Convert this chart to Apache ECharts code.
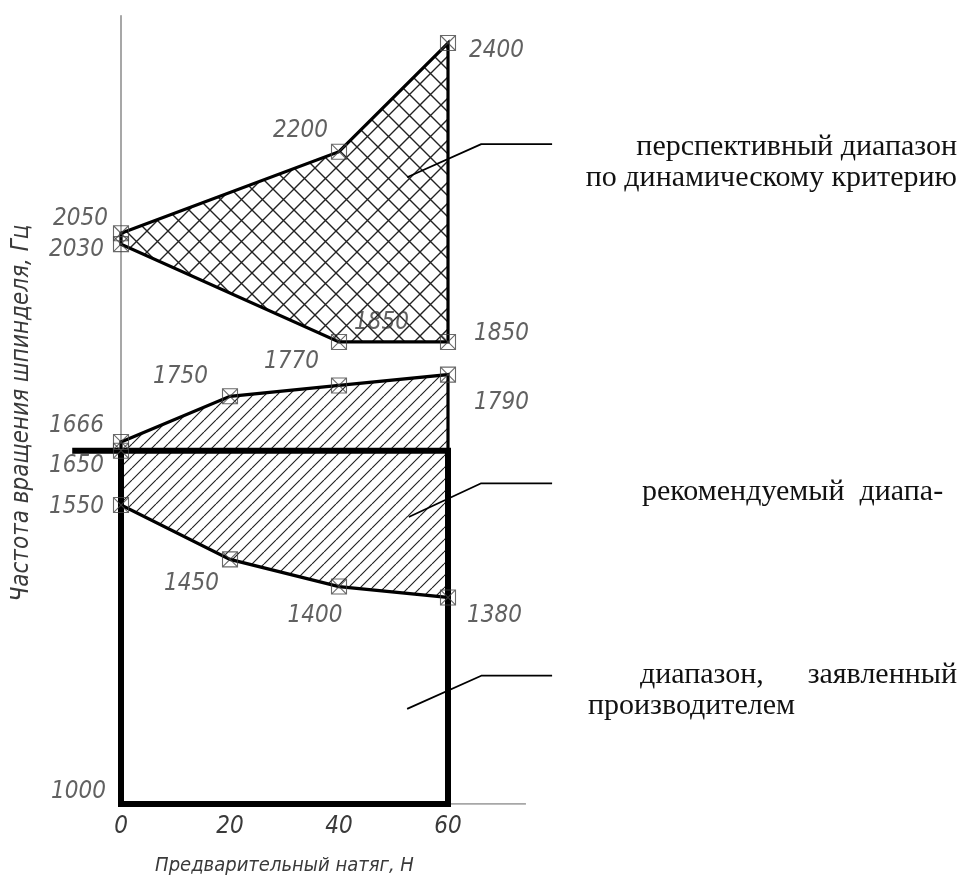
<!DOCTYPE html>
<html><head><meta charset="utf-8">
<script src="https://cdn.jsdelivr.net/npm/echarts@6/dist/echarts.min.js"></script>
<style>html,body{margin:0;padding:0;background:#fff}#c{width:961px;height:883px}</style>
</head><body><div id="c"></div>
<script>
// ---- data ----
const upperX = [0, 40, 60];                 // перспективный диапазон
const upperTop = [2050, 2200, 2400];
const upperBottom = [2030, 1850, 1850];
const recX = [0, 20, 40, 60];               // рекомендуемый диапазон
const recTop = [1666, 1750, 1770, 1790];
const recBottom = [1550, 1450, 1400, 1380];
const factoryX = [-8.4, 60, 60, 0, 0];      // диапазон, заявленный производителем
const factoryY = [1650, 1650, 1000, 1000, 1650];
const extraPointX = [0];
const extraPointY = [1650];
const xTickLabels = [0, 20, 40, 60];
const yTickLabels = [1000];
const xAxisLineX = [0, 74.3];
const yAxisTop = 2450;
const leaderUpperX = [52.5, 66.1, 79.1], leaderUpperY = [2153, 2214, 2214];
const leaderRecX = [52.8, 66.1, 79.1], leaderRecY = [1528, 1590, 1590];
const leaderFactX = [52.5, 66.1, 79.1], leaderFactY = [1175, 1236, 1236];

// ---- styles ----
const numFont = "'Liberation Sans Narrow','DejaVu Sans Condensed','Roboto',sans-serif";
const numStyle = {fontFamily: numFont, fontStyle: 'italic', fontSize: 24, color: '#3a3a3a'};

function hatch(size, cross, lw) {
  const c = document.createElement('canvas');
  c.width = size; c.height = size;
  const g = c.getContext('2d');
  g.strokeStyle = '#222'; g.lineWidth = lw;
  g.beginPath();
  for (let k = -1; k <= 1; k++) {
    g.moveTo(k * size, size); g.lineTo(k * size + size, 0);
    if (cross) { g.moveTo(k * size, 0); g.lineTo(k * size + size, size); }
  }
  g.stroke();
  return {image: c, repeat: 'repeat'};
}
const crossPattern = hatch(21, true, 1.4);
const slashPattern = hatch(12, false, 1.15);

function zip(xs, ys) { return xs.map((x, i) => [x, ys[i]]); }
const upperPoly = zip(upperX, upperTop).concat(zip(upperX, upperBottom).reverse());
const recPoly = zip(recX, recTop).concat(zip(recX, recBottom).reverse());

function polySeries(name, poly, fill) {
  return {
    type: 'custom', name: name, coordinateSystem: 'cartesian2d', data: poly, z: 2, silent: true,
    renderItem: function (params, api) {
      if (params.dataIndex !== 0) return null;
      const pts = poly.map(p => api.coord(p));
      return {type: 'polygon', shape: {points: pts},
        style: {fill: fill, stroke: '#000', lineWidth: 3.2, lineJoin: 'miter'}};
    }
  };
}

// label placement (dx, dy, align) – kept apart from the data
const placeUpperTop = [[-13, -14, 'right'], [-11, -21, 'right'], [21, 8, 'left']];
const placeUpperBottom = [[-17, 6, 'right'], [15, -19, 'left'], [26, -8, 'left']];
const placeRecTop = [[-17, -16, 'right'], [-22, -20, 'right'], [-20, -24, 'right'], [26, 28, 'left']];
const placeRecBottom = [[-17, 2, 'right'], [-11, 24, 'right'], [-24, 29, 'center'], [19, 18, 'left']];
const placeExtra = [[-17, 15, 'right']];

function pointItems(xs, ys, place) {
  return xs.map((x, i) => ({
    value: [x, ys[i]],
    label: {offset: [place[i][0], place[i][1]], align: place[i][2]}
  }));
}
const markerData = [].concat(
  pointItems(upperX, upperTop, placeUpperTop),
  pointItems(upperX, upperBottom, placeUpperBottom),
  pointItems(recX, recTop, placeRecTop),
  pointItems(recX, recBottom, placeRecBottom),
  pointItems(extraPointX, extraPointY, placeExtra)
);

function leader(xs, ys) {
  return {type: 'line', data: zip(xs, ys), symbol: 'none', silent: true, z: 5, clip: false,
    lineStyle: {color: '#000', width: 1.8}};
}

// ---- right-hand captions ----
const serifFont = "30px 'Liberation Serif'";
function txt(t, x, y, align) {
  return {type: 'text', x: x, y: y, silent: true,
    style: {text: t, font: serifFont, fill: '#111', align: align, verticalAlign: 'middle'}};
}

const chart = echarts.init(document.getElementById('c'), null, {renderer: 'canvas'});

chart.setOption({
  animation: false,
  backgroundColor: '#fff',
  grid: {left: 12, right: 404, top: 15.82, bottom: 79, containLabel: false, outerBoundsMode: 'none'},
  xAxis: {
    type: 'value', min: -20, max: 80, interval: 20,
    axisLine: {show: false}, axisTick: {show: false}, splitLine: {show: false},
    axisLabel: Object.assign({margin: 11, formatter: v => xTickLabels.includes(v) ? String(v) : ''}, numStyle),
    name: 'Предварительный натяг, Н', nameLocation: 'middle', nameGap: 52,
    nameTextStyle: {fontFamily: numFont, fontStyle: 'italic', fontSize: 20, color: '#3a3a3a'}
  },
  yAxis: {
    type: 'value', min: 1000, max: yAxisTop, interval: 50,
    axisLine: {show: true, onZero: true, lineStyle: {color: '#8a8a8a', width: 1.5}},
    axisTick: {show: false}, splitLine: {show: false}, axisLabel: {show: false}
  },
  series: [
    {type: 'line', data: zip(xAxisLineX, [1000, 1000]), symbol: 'none', silent: true, z: 1,
      lineStyle: {color: '#8a8a8a', width: 1.5}},
    polySeries('перспективный диапазон', upperPoly, crossPattern),
    polySeries('рекомендуемый диапазон', recPoly, slashPattern),
    {type: 'line', name: 'диапазон, заявленный производителем', data: zip(factoryX, factoryY),
      symbol: 'none', silent: true, z: 4, clip: false,
      lineStyle: {color: '#000', width: 6, join: 'miter', cap: 'square'}},
    leader(leaderUpperX, leaderUpperY),
    leader(leaderRecX, leaderRecY),
    leader(leaderFactX, leaderFactY),
    {type: 'scatter', data: markerData, z: 6, silent: true,
      symbol: 'path://M0,0H10V10H0Z M0,0L10,10 M10,0L0,10', symbolSize: 15,
      itemStyle: {color: 'rgba(0,0,0,0)', borderColor: '#444', borderWidth: 1.1},
      label: Object.assign({show: true, position: 'inside', verticalAlign: 'middle',
        formatter: p => String(p.value[1])}, numStyle)},
    // y tick label(s) drawn at the axis position (x = 0)
    {type: 'scatter', data: yTickLabels.map(v => [0, v]), symbol: 'circle', symbolSize: 2,
      z: 7, silent: true, clip: false, itemStyle: {color: 'rgba(0,0,0,0)'},
      label: Object.assign({show: true, position: 'inside', offset: [-15, -12], align: 'right',
        verticalAlign: 'middle', formatter: p => String(p.value[1])}, numStyle)}
  ],
  graphic: [
    {type: 'text', x: 22, y: 413, rotation: Math.PI / 2, silent: true,
      style: {text: 'Частота вращения шпинделя, Гц', fontFamily: numFont, fontStyle: 'italic',
        fontSize: 24, fill: '#3a3a3a', align: 'center', verticalAlign: 'middle'}},
    txt('перспективный диапазон', 957, 147, 'right'),
    txt('по динамическому критерию', 957, 178, 'right'),
    txt('рекомендуемый  диапа-', 642, 492, 'left'),
    txt('диапазон,', 640, 675, 'left'),
    txt('заявленный', 957, 675, 'right'),
    txt('производителем', 588, 706, 'left')
  ]
});
</script></body></html>
